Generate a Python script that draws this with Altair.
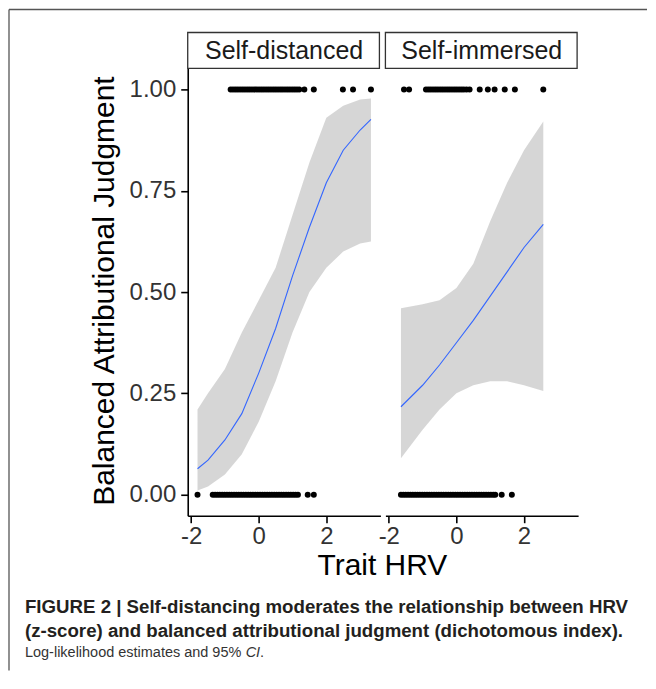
import altair as alt
import pandas as pd

# ---------------- data ----------------
conditions = ["Self-distanced", "Self-immersed"]

# Self-distanced: raw observations (Trait HRV z-scores) by outcome
sd_x_one = [-0.83, -0.76, -0.69, -0.62, -0.55, -0.48, -0.41, -0.34, -0.27, -0.2,
            -0.13, -0.06, 0.01, 0.08, 0.15, 0.22, 0.29, 0.36, 0.43, 0.5, 0.57,
            0.64, 0.71, 0.78, 0.85, 0.92, 0.99, 1.06, 1.13, 1.2, 1.35, 1.63,
            2.49, 2.79, 3.32]
sd_x_zero = [-1.81, -1.36, -1.29, -1.22, -1.15, -1.08, -1.01, -0.94, -0.87, -0.8,
             -0.73, -0.66, -0.59, -0.52, -0.45, -0.38, -0.31, -0.24, -0.17, -0.1,
             -0.03, 0.04, 0.11, 0.18, 0.25, 0.32, 0.39, 0.46, 0.53, 0.6, 0.67,
             0.74, 0.81, 0.88, 0.95, 1.02, 1.09, 1.16, 1.45, 1.63]
# Self-immersed
si_x_one = [-1.55, -1.4, -0.9, -0.83, -0.76, -0.69, -0.62, -0.55, -0.48, -0.41,
            -0.34, -0.27, -0.2, -0.13, -0.06, 0.01, 0.08, 0.15, 0.22, 0.3, 0.39,
            0.69, 0.93, 1.13, 1.43, 1.73, 2.57]
si_x_zero = [-1.64, -1.57, -1.5, -1.43, -1.36, -1.29, -1.22, -1.15, -1.08, -1.01,
             -0.94, -0.87, -0.8, -0.73, -0.66, -0.59, -0.52, -0.45, -0.38, -0.31,
             -0.24, -0.17, -0.1, -0.03, 0.04, 0.11, 0.18, 0.25, 0.32, 0.39, 0.46,
             0.53, 0.6, 0.67, 0.74, 0.81, 0.88, 0.95, 1.02, 1.09, 1.15, 1.34, 1.64]

# Fitted log-likelihood estimates with 95% CI
sd_fit_x = [-1.81, -1.5, -1.0, -0.5, 0.0, 0.5, 1.0, 1.5, 2.0, 2.5, 3.0, 3.32]
sd_fit = [0.064, 0.085, 0.135, 0.2, 0.3, 0.41, 0.54, 0.66, 0.77, 0.85, 0.9, 0.926]
sd_lo = [0.01, 0.02, 0.05, 0.1, 0.18, 0.28, 0.4, 0.5, 0.56, 0.6, 0.62, 0.625]
sd_hi = [0.21, 0.25, 0.31, 0.4, 0.48, 0.56, 0.69, 0.82, 0.93, 0.96, 0.975, 0.978]

si_fit_x = [-1.64, -1.0, -0.5, 0.0, 0.5, 1.0, 1.5, 2.0, 2.57]
si_fit = [0.217, 0.27, 0.32, 0.375, 0.43, 0.49, 0.55, 0.61, 0.667]
si_lo = [0.09, 0.16, 0.21, 0.25, 0.27, 0.28, 0.28, 0.27, 0.256]
si_hi = [0.46, 0.47, 0.48, 0.51, 0.57, 0.675, 0.77, 0.85, 0.921]

x_ticks = [-2, 0, 2]
y_ticks = [0.0, 0.25, 0.5, 0.75, 1.0]
x_title = "Trait HRV"
y_title = "Balanced Attributional Judgment"
caption_bold = ["FIGURE 2 | Self-distancing moderates the relationship between HRV",
                "(z-score) and balanced attributional judgment (dichotomous index)."]
caption_plain = ["Log-likelihood estimates and 95% ", "CI", "."]

# ---------------- layout constants ----------------
W, H = 193, 448
FONT = "Liberation Sans, Arial, Helvetica, sans-serif"

xscale = alt.Scale(domain=[-2.1, 3.6], nice=False, zero=False)
yscale = alt.Scale(domain=[-0.052, 1.052], nice=False, zero=False)

x_axis = alt.Axis(values=x_ticks, title=None, grid=False, labelFontSize=24,
                  labelFont=FONT, labelColor="#333333", tickSize=7, tickWidth=1.6,
                  tickColor="black", domainColor="black", domainWidth=1.6,
                  labelPadding=2, labelFlush=False, labelExpr="datum.value + ''")
y_axis = alt.Axis(values=y_ticks, format=".2f", title=None, grid=False,
                  labelFontSize=24, labelFont=FONT, labelColor="#333333",
                  tickSize=7, tickWidth=1.6, tickColor="black",
                  domainColor="black", domainWidth=1.6, labelPadding=5)


def make_panel(label, x_one, x_zero, fx, fit, lo, hi, show_y, extras):
    pts = pd.DataFrame({"x": x_one + x_zero,
                        "y": [1.0] * len(x_one) + [0.0] * len(x_zero)})
    fdf = pd.DataFrame({"x": fx, "fit": fit, "lo": lo, "hi": hi})
    yax = y_axis if show_y else None
    X = alt.X("x:Q", scale=xscale, axis=x_axis)

    band = alt.Chart(fdf).mark_area(color="#999999", opacity=0.4).encode(
        x=X, y=alt.Y("lo:Q", scale=yscale, axis=yax), y2="hi:Q")
    line = alt.Chart(fdf).mark_line(color="#3366FF", strokeWidth=1.1).encode(
        x=X, y=alt.Y("fit:Q", scale=yscale, axis=yax))
    points = alt.Chart(pts).mark_circle(size=36, color="black", opacity=1).encode(
        x=X, y=alt.Y("y:Q", scale=yscale, axis=yax))

    lab = pd.DataFrame({"label": [label]})
    strip = alt.Chart(lab).mark_rect(fill="white", stroke="#333333",
                                     strokeWidth=1.3).encode(
        x=alt.value(0), x2=alt.value(W - 1), y=alt.value(-36), y2=alt.value(0))
    strip_text = alt.Chart(lab).mark_text(fontSize=25, font=FONT, color="#1a1a1a",
                                          baseline="middle", align="center").encode(
        x=alt.value(W / 2), y=alt.value(-17), text="label:N")
    layers = [band, line, points, strip, strip_text] + extras
    return alt.layer(*layers).properties(width=W, height=H)


one = pd.DataFrame({"k": [0]})
frame_left = alt.Chart(one).mark_rule(color="#555555", strokeWidth=1.3).encode(
    x=alt.value(-179), y=alt.value(-59), y2=alt.value(603))
frame_top = alt.Chart(one).mark_rule(color="#555555", strokeWidth=1.3).encode(
    x=alt.value(-179), x2=alt.value(460), y=alt.value(-59))

xt = alt.Chart(pd.DataFrame({"t": [x_title]})).mark_text(
    fontSize=30, font=FONT, color="black", align="center", baseline="middle").encode(
    x=alt.value(195), y=alt.value(498), text="t:N")
yt = alt.Chart(pd.DataFrame({"t": [y_title]})).mark_text(
    fontSize=30, font=FONT, color="black", align="center", baseline="middle",
    angle=270).encode(x=alt.value(-83), y=alt.value(223), text="t:N")

cap1 = alt.Chart(pd.DataFrame({"t": [caption_bold[0]]})).mark_text(
    fontSize=18.7, font=FONT, fontWeight="bold", color="#231f20",
    align="left", baseline="middle").encode(
    x=alt.value(-163), y=alt.value(539), text="t:N")
cap2 = alt.Chart(pd.DataFrame({"t": [caption_bold[1]]})).mark_text(
    fontSize=18.7, font=FONT, fontWeight="bold", color="#231f20",
    align="left", baseline="middle").encode(
    x=alt.value(-163), y=alt.value(563), text="t:N")
cap_a = alt.Chart(pd.DataFrame({"t": [caption_plain[0]]})).mark_text(
    fontSize=14.5, font=FONT, color="#333333", align="left",
    baseline="middle").encode(x=alt.value(-163), y=alt.value(585), text="t:N")
cap_b = alt.Chart(pd.DataFrame({"t": [caption_plain[1]]})).mark_text(
    fontSize=14.5, font=FONT, fontStyle="italic", color="#333333", align="left",
    baseline="middle").encode(x=alt.value(58), y=alt.value(585), text="t:N")
cap_c = alt.Chart(pd.DataFrame({"t": [caption_plain[2]]})).mark_text(
    fontSize=14.5, font=FONT, color="#333333", align="left",
    baseline="middle").encode(x=alt.value(72.5), y=alt.value(585), text="t:N")

p1 = make_panel(conditions[0], sd_x_one, sd_x_zero, sd_fit_x, sd_fit, sd_lo, sd_hi,
                True, [frame_left, frame_top, xt, yt, cap1, cap2, cap_a, cap_b, cap_c])
p2 = make_panel(conditions[1], si_x_one, si_x_zero, si_fit_x, si_fit, si_lo, si_hi,
                False, [])

chart = alt.hconcat(p1, p2, spacing=5, bounds="flush").properties(
    padding=0, background="white").configure_view(stroke=None)

chart.save("out.html", embed_options={"renderer": "svg", "actions": False})
